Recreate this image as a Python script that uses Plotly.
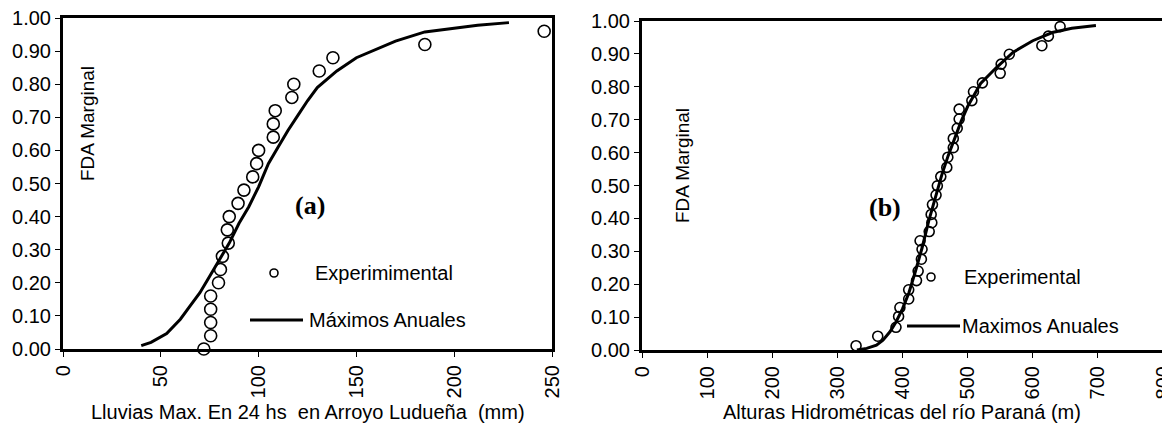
import plotly.graph_objects as go

W, H = 1170, 430
OFF = 8  # page body margin offset

# ---------------- Panel (a) data ----------------
a_exp_x = [72, 75.5, 75.5, 75.5, 75.5, 79.5, 80.5, 81.5, 84.5, 84, 85, 89.5, 92.5,
           97, 99, 100, 107.5, 107.5, 108.5, 117, 118, 131, 138, 185, 246]
a_exp_f = [0.00, 0.04, 0.08, 0.12, 0.16, 0.20, 0.24, 0.28, 0.32, 0.36, 0.40, 0.44, 0.48,
           0.52, 0.56, 0.60, 0.64, 0.68, 0.72, 0.76, 0.80, 0.84, 0.88, 0.92, 0.96]
a_fit_x = [40, 45, 53, 60, 65, 70, 75, 80, 85, 90, 95, 100, 105, 110, 115, 120, 125,
           130, 140, 150, 160, 170, 185, 200, 212, 228]
a_fit_f = [0.01, 0.02, 0.047, 0.09, 0.13, 0.17, 0.22, 0.27, 0.32, 0.38, 0.43, 0.49,
           0.56, 0.61, 0.66, 0.705, 0.75, 0.79, 0.84, 0.88, 0.905, 0.93, 0.958, 0.97,
           0.978, 0.986]

# ---------------- Panel (b) data ----------------
b_exp_x = [328.7, 362, 390, 394, 396, 409.5, 409.5, 421.5, 424, 429, 430, 427, 441,
           445, 444, 446, 451.5, 453.5, 458.8, 468, 469.6, 478, 478, 484, 487, 487,
           506.5, 509, 522.7, 550, 551.5, 564, 614, 624, 642]
b_exp_f = [0.013, 0.042, 0.069, 0.102, 0.129, 0.155, 0.183, 0.211, 0.24, 0.276,
           0.306, 0.332, 0.36, 0.387, 0.412, 0.442, 0.471, 0.499, 0.527, 0.555,
           0.586, 0.615, 0.643, 0.674, 0.702, 0.732, 0.758, 0.785, 0.812, 0.841,
           0.869, 0.899, 0.925, 0.954, 0.983]
b_fit_x = [330, 345, 360, 370, 381, 390, 400, 410, 420, 430, 440, 450, 460, 470, 480,
           490, 500, 520, 545, 570, 600, 630, 660, 697]
b_fit_f = [0.0, 0.005, 0.015, 0.03, 0.056, 0.085, 0.125, 0.175, 0.24, 0.31, 0.39,
           0.46, 0.53, 0.59, 0.645, 0.695, 0.74, 0.81, 0.86, 0.905, 0.94, 0.965,
           0.978, 0.986]

y_ticks = [0, 0.1, 0.2, 0.3, 0.4, 0.5, 0.6, 0.7, 0.8, 0.9, 1.0]
a_xticks = [0, 50, 100, 150, 200, 250]
b_xticks = [0, 100, 200, 300, 400, 500, 600, 700, 800]

FONT = "Liberation Sans, Arial, sans-serif"
SERIF = "Liberation Serif, Times New Roman, serif"


def px(x):
    return (x - OFF) / W


def py(y):
    return 1 - (y - OFF) / H


fig = go.Figure()

fig.add_trace(go.Scatter(x=a_fit_x, y=a_fit_f, mode="lines",
                         line=dict(color="black", width=3), xaxis="x", yaxis="y",
                         showlegend=False))
fig.add_trace(go.Scatter(x=a_exp_x, y=a_exp_f, mode="markers",
                         marker=dict(symbol="circle-open", size=12, color="black",
                                     line=dict(width=1.6)),
                         xaxis="x", yaxis="y", showlegend=False, cliponaxis=False))
fig.add_trace(go.Scatter(x=b_fit_x, y=b_fit_f, mode="lines",
                         line=dict(color="black", width=3), xaxis="x2", yaxis="y2",
                         showlegend=False))
fig.add_trace(go.Scatter(x=b_exp_x, y=b_exp_f, mode="markers",
                         marker=dict(symbol="circle-open", size=10, color="black",
                                     line=dict(width=1.6)),
                         xaxis="x2", yaxis="y2", showlegend=False, cliponaxis=False))

axis_common = dict(showgrid=False, zeroline=False, showline=True, linecolor="black",
                   linewidth=3, mirror=True, ticks="outside", ticklen=5, tickwidth=1,
                   tickcolor="black", automargin=False, ticklabeloverflow="allow",
                   tickfont=dict(family=FONT, size=20, color="black"))

fig.update_layout(
    width=W, height=H, margin=dict(l=0, r=0, t=0, b=0, autoexpand=False),
    paper_bgcolor="white", plot_bgcolor="white", showlegend=False,
    xaxis=dict(domain=[px(63), px(552)], range=[0, 250], tickvals=a_xticks,
               tickangle=-90, anchor="y", **axis_common),
    yaxis=dict(domain=[py(349), py(18)], range=[0, 1], tickvals=y_ticks,
               tickformat=".2f", anchor="x", **axis_common),
    xaxis2=dict(domain=[px(642), px(1163)], range=[0, 800], tickvals=b_xticks,
                tickangle=-90, anchor="y2", **axis_common),
    yaxis2=dict(domain=[py(350), py(21)], range=[0, 1], tickvals=y_ticks,
                tickformat=".2f", anchor="x2", **axis_common),
)


def note(text, x, y, size, family=FONT, xanchor="center", angle=0):
    return dict(text=text, x=px(x), y=py(y), xref="paper", yref="paper",
                xanchor=xanchor, yanchor="middle", showarrow=False, textangle=angle,
                font=dict(family=family, size=size, color="black"))


ann = [
    note("Lluvias Max. En 24 hs  en Arroyo Ludueña  (mm)", 308, 412, 20),
    note("Alturas Hidrométricas del río Paraná (m)", 902, 412, 20),
    note("FDA Marginal", 87, 124, 19, angle=-90),
    note("FDA Marginal", 682, 166, 19, angle=-90),
    note("<b>(a)</b>", 310, 205, 26, family=SERIF),
    note("<b>(b)</b>", 885, 208, 26, family=SERIF),
    note("Experimimental", 313, 273, 20, xanchor="left"),
    note("Máximos Anuales", 307, 320, 20, xanchor="left"),
    note("Experimental", 962, 277, 20, xanchor="left"),
    note("Maximos Anuales", 960, 326, 20, xanchor="left"),
]
fig.update_layout(annotations=ann)


def circ(cx, cy, r=4):
    return dict(type="circle", xref="paper", yref="paper",
                x0=px(cx - r), x1=px(cx + r), y0=py(cy + r), y1=py(cy - r),
                line=dict(color="black", width=1.6))


def hline(x0, x1, y):
    return dict(type="line", xref="paper", yref="paper",
                x0=px(x0), x1=px(x1), y0=py(y), y1=py(y),
                line=dict(color="black", width=3))


fig.update_layout(shapes=[circ(274, 273), hline(250, 303, 320),
                          circ(931, 277), hline(907, 960, 326)])

fig.write_html("out.html")
